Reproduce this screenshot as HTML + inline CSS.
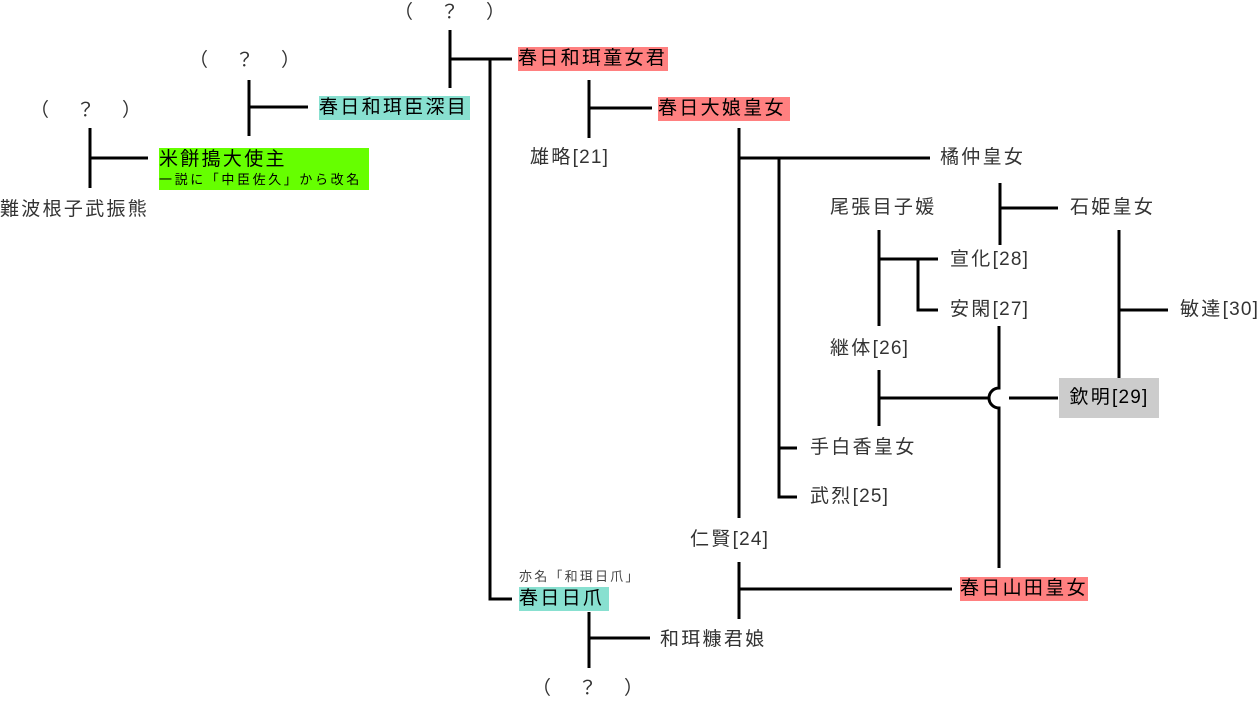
<!DOCTYPE html>
<html><head><meta charset="utf-8"><style>
body{margin:0;width:1259px;height:699px;background:#fff;position:relative;overflow:hidden;font-family:"Liberation Sans","Noto Sans CJK JP",sans-serif}
.t{position:absolute;font-size:19px;line-height:24px;color:#333;white-space:nowrap;letter-spacing:2.3px}
.t i{font-style:normal;letter-spacing:1.2px}
.b{color:#000}
.r{background:#ff8080}
.g{background:#88e0d0}
.s{font-size:13px;line-height:16px;color:#444;letter-spacing:2.2px}
svg{position:absolute;left:0;top:0}
</style></head><body>
<svg width="1259" height="699" fill="none" stroke="#000" stroke-width="3">
<path d="M450 30V88M450 59H512M490 59V599H512"/>
<path d="M249 80V136M249 107H308"/>
<path d="M90 128V188M90 158H148"/>
<path d="M589 80V138M589 108H652"/>
<path d="M739 128V518M739 158H930"/>
<path d="M779 158V497H797M779 448H797"/>
<path d="M1000 183V245M1000 208H1058"/>
<path d="M879 230V326M879 259H938M918 259V310H938"/>
<path d="M879 370V426M879 398H989M1009 398H1058"/>
<path d="M999 326V388A10 10 0 0 0 999 408V568"/>
<path d="M1119 230V378M1119 310H1168"/>
<path d="M739 562V619M739 589H952"/>
<path d="M589 612V668M589 638H650"/>
</svg>
<div class="t" style="left:394px;top:1px;letter-spacing:4px">（　？　）</div>
<div class="t b r" style="left:518px;top:47px;width:150px">春日和珥童女君</div>
<div class="t" style="left:189px;top:49px;letter-spacing:4px">（　？　）</div>
<div class="t b g" style="left:319px;top:96px;width:151px">春日和珥臣深目</div>
<div class="t" style="left:30px;top:99px;letter-spacing:4px">（　？　）</div>
<div class="t b" style="left:159px;top:148px;width:210px;height:42px;background:#66ff00">米餅搗大使主<div class="s" style="color:#000;letter-spacing:2.6px">一説に「中臣佐久」から改名</div></div>
<div class="t" style="left:0px;top:198px">難波根子武振熊</div>
<div class="t" style="left:530px;top:146px">雄略<i>[21]</i></div>
<div class="t b r" style="left:658px;top:97px;width:132px">春日大娘皇女</div>
<div class="t" style="left:940px;top:146px">橘仲皇女</div>
<div class="t" style="left:830px;top:196px">尾張目子媛</div>
<div class="t" style="left:1070px;top:196px">石姫皇女</div>
<div class="t" style="left:950px;top:248px">宣化<i>[28]</i></div>
<div class="t" style="left:950px;top:298px">安閑<i>[27]</i></div>
<div class="t" style="left:1180px;top:298px">敏達<i>[30]</i></div>
<div class="t" style="left:830px;top:337px">継体<i>[26]</i></div>
<div class="t b" style="left:1059px;top:378px;width:100px;height:40px;line-height:40px;background:#ccc;text-align:center">欽明<i>[29]</i></div>
<div class="t" style="left:810px;top:436px">手白香皇女</div>
<div class="t" style="left:810px;top:485px">武烈<i>[25]</i></div>
<div class="t" style="left:690px;top:528px">仁賢<i>[24]</i></div>
<div class="t s" style="left:519px;top:569px">亦名「和珥日爪」</div>
<div class="t b g" style="left:519px;top:587px;width:90px">春日日爪</div>
<div class="t b r" style="left:960px;top:577px;width:128px">春日山田皇女</div>
<div class="t" style="left:660px;top:628px">和珥糠君娘</div>
<div class="t" style="left:532px;top:677px;letter-spacing:4px">（　？　）</div>
</body></html>
